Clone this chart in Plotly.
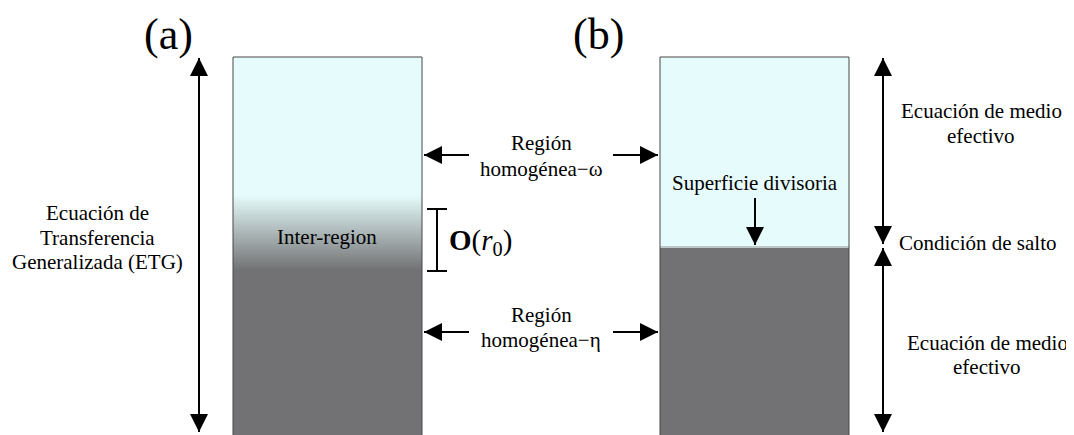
import numpy as np
import plotly.graph_objects as go

W, H = 1074, 435
OFF = 8  # page body margin compensation
FONT = "Liberation Serif"

# ---- diagram content (text lines) ----
panel_labels = ["(a)", "(b)"]
left_lines = ["Ecuación de", "Transferencia", "Generalizada (ETG)"]
inter_label = "Inter-region"
order_label = "<b>O</b>(<i>r</i><sub>0</sub>)"
omega_lines = ["Región", "homogénea−ω"]
eta_lines = ["Región", "homogénea−η"]
surface_label = "Superficie divisoria"
top_right_lines = ["Ecuación de medio", "efectivo"]
jump_label = "Condición de salto"
bottom_right_lines = ["Ecuación de medio", "efectivo"]

CYAN = "rgb(230,252,252)"
GRAY = "rgb(114,114,116)"

fig = go.Figure()

# ---- panel (a): gradient column ----
ax0, ax1 = 233, 422
top, bot = 57, 445
g0, g1 = 195, 270
edges = np.arange(top, bot + 1, 1.0)
centers = (edges[:-1] + edges[1:]) / 2
t = np.clip((centers - g0) / (g1 - g0), 0, 1)
z = t.reshape(-1, 1)
fig.add_trace(go.Heatmap(
    x=[ax0, ax1], y=edges, z=z, zmin=0, zmax=1,
    colorscale=[[0, CYAN], [1, GRAY]], showscale=False, hoverinfo="skip"))

# ---- panel (b): sharp interface ----
bx0, bx1 = 660, 849
iface = 247
fig.add_shape(type="rect", x0=bx0, x1=bx1, y0=top, y1=iface, fillcolor=CYAN, line_width=0, layer="below")
fig.add_shape(type="rect", x0=bx0, x1=bx1, y0=iface, y1=bot, fillcolor=GRAY, line_width=0, layer="below")
fig.add_shape(type="line", x0=bx0, x1=bx1, y0=iface, y1=iface, line=dict(color="rgb(190,200,200)", width=2))

# borders
for x0, x1 in [(ax0, ax1), (bx0, bx1)]:
    fig.add_shape(type="rect", x0=x0, x1=x1, y0=top, y1=bot + 5,
                  line=dict(color="rgb(70,70,70)", width=1), fillcolor="rgba(0,0,0,0)")

# bracket for O(r0)
bxk, by0, by1 = 437, 209, 271
fig.add_shape(type="line", x0=bxk, x1=bxk, y0=by0, y1=by1, line=dict(color="black", width=2))
for yy in (by0, by1):
    fig.add_shape(type="line", x0=bxk - 10, x1=bxk + 10, y0=yy, y1=yy, line=dict(color="black", width=2))

ann = []

def head(xh, yh, dx, dy):
    ann.append(dict(x=xh, y=yh, ax=xh + dx, ay=yh + dy, xref="x", yref="y", axref="x", ayref="y",
                    text="", showarrow=True, arrowhead=2, arrowsize=1.8, arrowwidth=2,
                    arrowcolor="black", standoff=0, startstandoff=0))

def arrow(xh, yh, xt, yt):
    fig.add_shape(type="line", x0=xt, y0=yt, x1=xh, y1=yh, line=dict(color="black", width=2))
    L = np.hypot(xh - xt, yh - yt)
    head(xh, yh, (xt - xh) / L * 20, (yt - yh) / L * 20)

def darrow(x, y0, y1):
    fig.add_shape(type="line", x0=x, y0=y0, x1=x, y1=y1, line=dict(color="black", width=2))
    head(x, y0, 0, 20)
    head(x, y1, 0, -20)

darrow(199, 58, 432)
darrow(883, 58, 244)
darrow(883, 248, 432)
for yy in (155, 332):
    arrow(424, yy, 469, yy)
    arrow(658, yy, 613, yy)
arrow(755, 245, 755, 198)

def text(x, y, s, size=21):
    ann.append(dict(x=x, y=y, xref="x", yref="y", text=s, showarrow=False,
                    font=dict(family=FONT, size=size, color="black")))

def lines(x, ys, ls, size=21):
    for yy, s in zip(ys, ls):
        text(x, yy, s, size)

text(168, 34, panel_labels[0], size=44)
text(598, 34, panel_labels[1], size=44)
lines(97, [213, 238, 262], left_lines)
text(327, 237, inter_label)
text(480, 242, order_label, size=29)
lines(541, [143, 169], omega_lines)
lines(541, [315, 340], eta_lines)
text(755, 183, surface_label)
lines(981, [111, 136], top_right_lines)
text(977, 243, jump_label)
lines(987, [343, 367], bottom_right_lines)

fig.update_layout(
    width=W, height=H, margin=dict(l=0, r=0, t=0, b=0),
    paper_bgcolor="white", plot_bgcolor="white",
    xaxis=dict(range=[OFF, W + OFF], visible=False, fixedrange=True),
    yaxis=dict(range=[H + OFF, OFF], visible=False, fixedrange=True),
    annotations=ann, showlegend=False)

fig.write_html("out.html")
